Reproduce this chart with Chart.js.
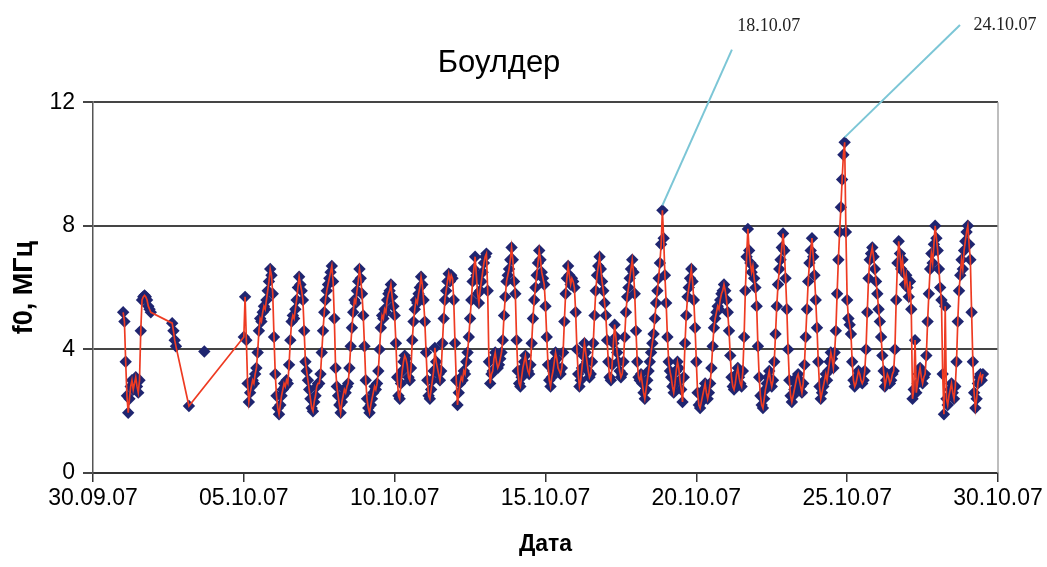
<!DOCTYPE html>
<html lang="ru">
<head>
<meta charset="utf-8">
<title>Боулдер</title>
<script src="https://cdn.jsdelivr.net/npm/chart.js@4.4.1/dist/chart.umd.min.js"></script>
<style>
    html, body { margin: 0; padding: 0; background: #fff; }
</style>
</head>
<body>
<canvas id="f0Chart" width="1047" height="567"></canvas>
<script>
/* Подписи оси X: каждые 5 суток начиная с 30.09.07 */
const tickLabels = ['30.09.07', '05.10.07', '10.10.07', '15.10.07', '20.10.07', '25.10.07', '30.10.07'];

/* 01.10.07, почасовые значения f0 (МГц) с 00 UT */
const oct01F0 = [5.2, 4.9, 3.6, 2.5, 1.95, 2.4, 2.8, 3.0, 2.7, 2.9, 3.1, 2.8, 2.6, 3.0, 4.6, 5.6, 5.7, 5.75, 5.7, 5.6, 5.4, 5.3, 5.2];

/* редкие измерения 02.10–03.10 (сутки от 30.09.07) */
const gapDays = [2.625, 2.667, 2.708, 2.75, 3.18];
const gapF0 = [4.85, 4.6, 4.3, 4.1, 2.17];

/* одиночная точка без линии */
const strayDays = [3.69];
const strayF0 = [3.93];

/* с 05.10.07 – почасовые ряды, одна строка = одни сутки (00..23 UT) */
const firstHourlyDay = 5;
const hourlyF0 = [
    [4.4, 5.7, 4.3, 2.9, 2.3, 2.6, 2.8, 3.0, 2.9, 3.2, 3.4, 3.9, 4.6, 5.0, 4.9, 5.2, 5.4, 5.3, 5.6, 5.9, 6.2, 6.6, 6.4, 5.8],        // 05.10
    [4.4, 3.2, 2.5, 2.1, 1.9, 2.2, 2.5, 2.7, 2.9, 2.8, 3.0, 2.9, 3.5, 4.3, 4.9, 5.1, 5.0, 5.3, 5.6, 6.0, 6.35, 6.1, 5.9, 5.6],      // 06.10
    [4.6, 3.6, 3.3, 3.0, 2.7, 2.4, 2.1, 2.0, 2.3, 2.5, 2.8, 2.9, 2.9, 3.2, 3.9, 4.6, 5.2, 5.6, 5.9, 6.1, 6.3, 6.5, 6.7, 6.2],       // 07.10
    [5.0, 3.4, 2.8, 2.5, 2.2, 1.95, 2.3, 2.5, 2.7, 2.6, 2.8, 2.9, 3.4, 4.1, 4.7, 5.2, 5.6, 5.5, 5.9, 6.2, 6.6, 6.3, 5.8, 5.1],      // 08.10
    [4.1, 3.0, 2.4, 2.1, 1.95, 2.2, 2.4, 2.6, 2.8, 2.7, 2.9, 3.3, 4.0, 4.7, 5.1, 5.0, 5.3, 5.2, 5.6, 5.8, 5.9, 6.1, 5.7, 5.4],      // 09.10
    [5.1, 4.2, 3.1, 2.5, 2.4, 2.9, 3.3, 3.6, 3.8, 3.7, 3.5, 3.1, 3.0, 3.4, 4.3, 4.9, 5.3, 5.6, 5.5, 5.8, 6.0, 6.35, 6.1, 5.6],      // 10.10
    [4.9, 3.9, 3.0, 2.5, 2.4, 2.7, 3.0, 3.3, 4.05, 3.6, 3.4, 3.2, 3.0, 3.3, 4.2, 5.0, 5.6, 5.9, 6.2, 6.45, 6.2, 6.4, 6.3, 5.6],     // 11.10
    [4.2, 3.0, 2.2, 2.6, 2.9, 3.1, 3.0, 3.3, 3.2, 3.6, 3.9, 4.4, 5.0, 5.6, 6.2, 6.6, 7.0, 6.4, 5.8, 5.5, 5.9, 6.2, 6.5, 6.8],       // 12.10
    [7.0, 7.1, 5.9, 3.6, 2.9, 3.2, 3.3, 3.7, 3.9, 3.6, 3.4, 3.5, 3.7, 3.9, 4.3, 5.1, 5.7, 6.2, 6.4, 6.6, 6.9, 7.3, 6.9, 6.2],       // 13.10
    [5.8, 4.3, 3.3, 2.9, 2.8, 3.1, 3.4, 3.6, 3.8, 3.5, 3.3, 3.2, 3.5, 4.2, 5.0, 5.6, 6.0, 6.4, 6.8, 7.2, 6.9, 6.5, 6.3, 6.1],       // 14.10
    [5.4, 4.4, 3.5, 3.0, 2.8, 3.1, 3.3, 3.6, 3.9, 3.7, 3.4, 3.3, 3.2, 3.4, 3.9, 4.9, 5.8, 6.3, 6.7, 6.4, 6.1, 6.3, 6.2, 6.0],       // 15.10
    [5.2, 4.0, 3.2, 2.8, 3.0, 3.4, 3.8, 4.2, 3.9, 3.6, 3.3, 3.1, 3.2, 3.6, 4.2, 5.1, 5.9, 6.4, 6.7, 7.0, 6.6, 6.2, 5.9, 5.5],       // 16.10
    [5.1, 4.3, 3.6, 3.1, 3.0, 3.5, 4.2, 4.8, 4.4, 3.9, 3.6, 3.3, 3.1, 3.2, 3.6, 4.4, 5.2, 5.7, 6.0, 6.3, 6.6, 6.9, 6.5, 5.8],       // 17.10
    [4.6, 3.6, 3.1, 3.0, 3.2, 2.9, 2.6, 2.4, 2.7, 3.0, 3.3, 3.6, 3.9, 4.2, 4.5, 5.0, 5.5, 5.9, 6.3, 6.8, 7.4, 8.5, 7.6, 6.4],       // 18.10
    [5.5, 4.4, 3.6, 3.3, 3.1, 2.8, 2.6, 2.9, 3.3, 3.6, 3.4, 3.0, 2.7, 2.3, 3.1, 4.2, 5.1, 5.7, 6.0, 6.3, 6.6, 6.2, 5.6, 4.7],       // 19.10
    [3.6, 2.6, 2.2, 2.1, 2.3, 2.5, 2.7, 2.9, 2.6, 2.4, 2.6, 2.9, 3.4, 4.1, 4.7, 5.0, 5.2, 5.4, 5.3, 5.6, 5.8, 5.9, 6.1, 5.9],       // 20.10
    [5.6, 5.2, 4.6, 3.8, 3.1, 2.8, 2.7, 2.9, 3.2, 3.4, 3.1, 2.9, 2.8, 3.3, 4.4, 5.9, 7.0, 7.9, 7.2, 6.8, 6.5, 6.7, 6.3, 6.0],       // 21.10
    [5.4, 4.1, 3.1, 2.5, 2.2, 2.1, 2.4, 2.7, 2.9, 3.1, 3.3, 3.0, 2.8, 3.0, 3.6, 4.5, 5.4, 6.1, 6.6, 6.9, 7.3, 7.75, 7.2, 6.3],      // 22.10
    [5.3, 4.0, 3.0, 2.5, 2.3, 2.5, 2.7, 2.9, 3.1, 3.2, 3.0, 2.8, 2.6, 2.9, 3.5, 4.4, 5.3, 6.2, 6.8, 7.2, 7.6, 7.0, 6.4, 5.6],       // 23.10
    [4.7, 3.6, 2.8, 2.4, 2.6, 2.8, 3.0, 3.2, 3.0, 3.3, 3.6, 3.9, 3.7, 3.4, 3.9, 4.6, 5.8, 6.9, 7.8, 8.6, 9.5, 10.3, 10.7, 7.8],     // 24.10
    [5.6, 5.0, 4.8, 4.5, 3.6, 3.0, 2.8, 2.9, 3.1, 3.3, 3.2, 3.0, 2.9, 3.0, 3.3, 4.0, 5.2, 6.3, 6.9, 7.1, 7.3, 7.0, 6.6, 6.2],       // 25.10
    [5.8, 5.3, 4.9, 4.4, 3.8, 3.3, 2.8, 3.0, 3.2, 3.1, 2.9, 3.0, 3.2, 3.3, 4.0, 5.6, 6.8, 7.5, 7.1, 6.6, 6.9, 6.5, 6.1, 6.4],       // 26.10
    [6.0, 5.7, 6.2, 5.3, 2.4, 2.7, 4.3, 2.6, 2.9, 3.2, 3.4, 3.1, 2.9, 3.1, 3.2, 3.8, 4.9, 5.8, 6.6, 7.1, 6.8, 7.4, 8.0, 7.6],       // 27.10
    [7.2, 6.6, 6.0, 5.6, 3.2, 1.9, 5.4, 2.4, 2.2, 2.5, 2.7, 2.9, 2.6, 2.4, 2.8, 3.6, 4.9, 5.9, 6.4, 6.9, 6.6, 7.2, 7.5, 7.8],       // 28.10
    [8.0, 7.4, 6.9, 5.2, 3.6, 2.6, 2.1, 2.4, 2.9, 3.1, 3.2, 3.0, 3.2]                                                              // 29.10
];

/* выноски к максимумам */
const calloutLabels = ['18.10.07', '24.10.07'];
const calloutDays = [18, 24];

const FONT = '"Liberation Sans", Arial, sans-serif';

/* ── точки ряда ─────────────────────────────────────────── */
function buildPoints() {
    const pts = [];
    oct01F0.forEach((v, h) => pts.push({ x: 1 + h / 24, y: v }));
    gapDays.forEach((d, i) => pts.push({ x: d, y: gapF0[i] }));
    hourlyF0.forEach((row, i) => {
        row.forEach((v, h) => pts.push({ x: firstHourlyDay + i + h / 24, y: v }));
    });
    return pts;
}

const f0Points = buildPoints();
const strayPoints = strayDays.map((d, i) => ({ x: d, y: strayF0[i] }));

/* рамка справа */
const frame = {
    id: 'frame',
    beforeDatasetsDraw(chart) {
        const { ctx, chartArea: a } = chart;
        ctx.save();
        ctx.strokeStyle = '#a8a8a8';
        ctx.lineWidth = 1.5;
        ctx.beginPath();
        ctx.moveTo(a.right, a.top);
        ctx.lineTo(a.right, a.bottom);
        ctx.stroke();
        ctx.restore();
    }
};

/* выноски с датами */
const callouts = {
    id: 'callouts',
    afterDatasetsDraw(chart, args, opts) {
        const { ctx } = chart;
        const xs = chart.scales.x;
        const ys = chart.scales.y;
        ctx.save();
        opts.items.forEach((item, i) => {
            const day = calloutDays[i];
            let peak = null;
            f0Points.forEach((p) => {
                if (p.x >= day && p.x < day + 1 && (!peak || p.y > peak.y)) peak = p;
            });
            const x0 = xs.getPixelForValue(peak.x);
            const y0 = ys.getPixelForValue(peak.y) - 5;
            const x1 = xs.getPixelForValue(item.lineTo[0]);
            const y1 = ys.getPixelForValue(item.lineTo[1]);
            ctx.strokeStyle = '#7cc6d6';
            ctx.lineWidth = 2;
            ctx.beginPath();
            ctx.moveTo(x0, y0);
            ctx.lineTo(x1, y1);
            ctx.stroke();

            ctx.font = '18px "Liberation Serif", "Times New Roman", serif';
            ctx.fillStyle = '#222';
            ctx.textAlign = 'center';
            ctx.textBaseline = 'middle';
            ctx.fillText(calloutLabels[i], xs.getPixelForValue(item.textAt[0]), ys.getPixelForValue(item.textAt[1]));
        });
        ctx.restore();
    }
};

new Chart(document.getElementById('f0Chart').getContext('2d'), {
    type: 'scatter',
    data: {
        datasets: [
            {
                data: f0Points,
                showLine: true,
                borderColor: '#ee3b22',
                borderWidth: 1.7,
                pointRadius: 0,
                tension: 0
            },
            {
                data: f0Points,
                showLine: false,
                pointStyle: 'rectRot',
                pointRadius: 6.2,
                pointBorderWidth: 0,
                pointBackgroundColor: '#1f2570'
            },
            {
                data: strayPoints,
                showLine: false,
                pointStyle: 'rectRot',
                pointRadius: 6.2,
                pointBorderWidth: 0,
                pointBackgroundColor: '#1f2570'
            }
        ]
    },
    options: {
        responsive: false,
        animation: false,
        events: [],
        layout: { padding: { left: 0, right: 49, top: 0, bottom: 0 } },
        plugins: {
            legend: { display: false },
            tooltip: { enabled: false },
            title: {
                display: true,
                text: 'Боулдер',
                color: '#000',
                font: { family: FONT, size: 31, weight: 'normal', lineHeight: 1.2 },
                padding: { top: 45, bottom: 20 }
            },
            callouts: {
                items: [
                    { lineTo: [21.18, 13.7], textAt: [22.4, 14.45] },
                    { lineTo: [28.74, 14.5], textAt: [30.23, 14.5] }
                ]
            }
        },
        scales: {
            x: {
                type: 'linear',
                min: 0,
                max: 30,
                ticks: {
                    stepSize: 5,
                    padding: 3,
                    color: '#000',
                    font: { family: FONT, size: 23 },
                    maxRotation: 0,
                    callback: (value, index) => tickLabels[index]
                },
                grid: { drawOnChartArea: false, tickLength: 9, color: '#333', lineWidth: 1.5 },
                border: { color: '#333', width: 2 },
                title: {
                    display: true,
                    text: 'Дата',
                    color: '#000',
                    font: { family: FONT, size: 23, weight: 'bold', lineHeight: 1.2 },
                    padding: { top: 4, bottom: 9 }
                },
                afterFit: (scale) => { scale.height = 94; }
            },
            y: {
                min: 0,
                max: 12,
                ticks: {
                    stepSize: 4,
                    padding: 8,
                    color: '#000',
                    font: { family: FONT, size: 23 }
                },
                grid: { color: '#454545', lineWidth: 2, tickLength: 10 },
                border: { color: '#555', width: 1.5 },
                title: {
                    display: true,
                    text: 'f0, МГц',
                    color: '#000',
                    font: { family: FONT, size: 27, weight: 'bold', lineHeight: 1.2 },
                    padding: { top: 8, bottom: 0 }
                },
                afterFit: (scale) => { scale.width = 93; }
            }
        }
    },
    plugins: [frame, callouts]
});
</script>
</body>
</html>
